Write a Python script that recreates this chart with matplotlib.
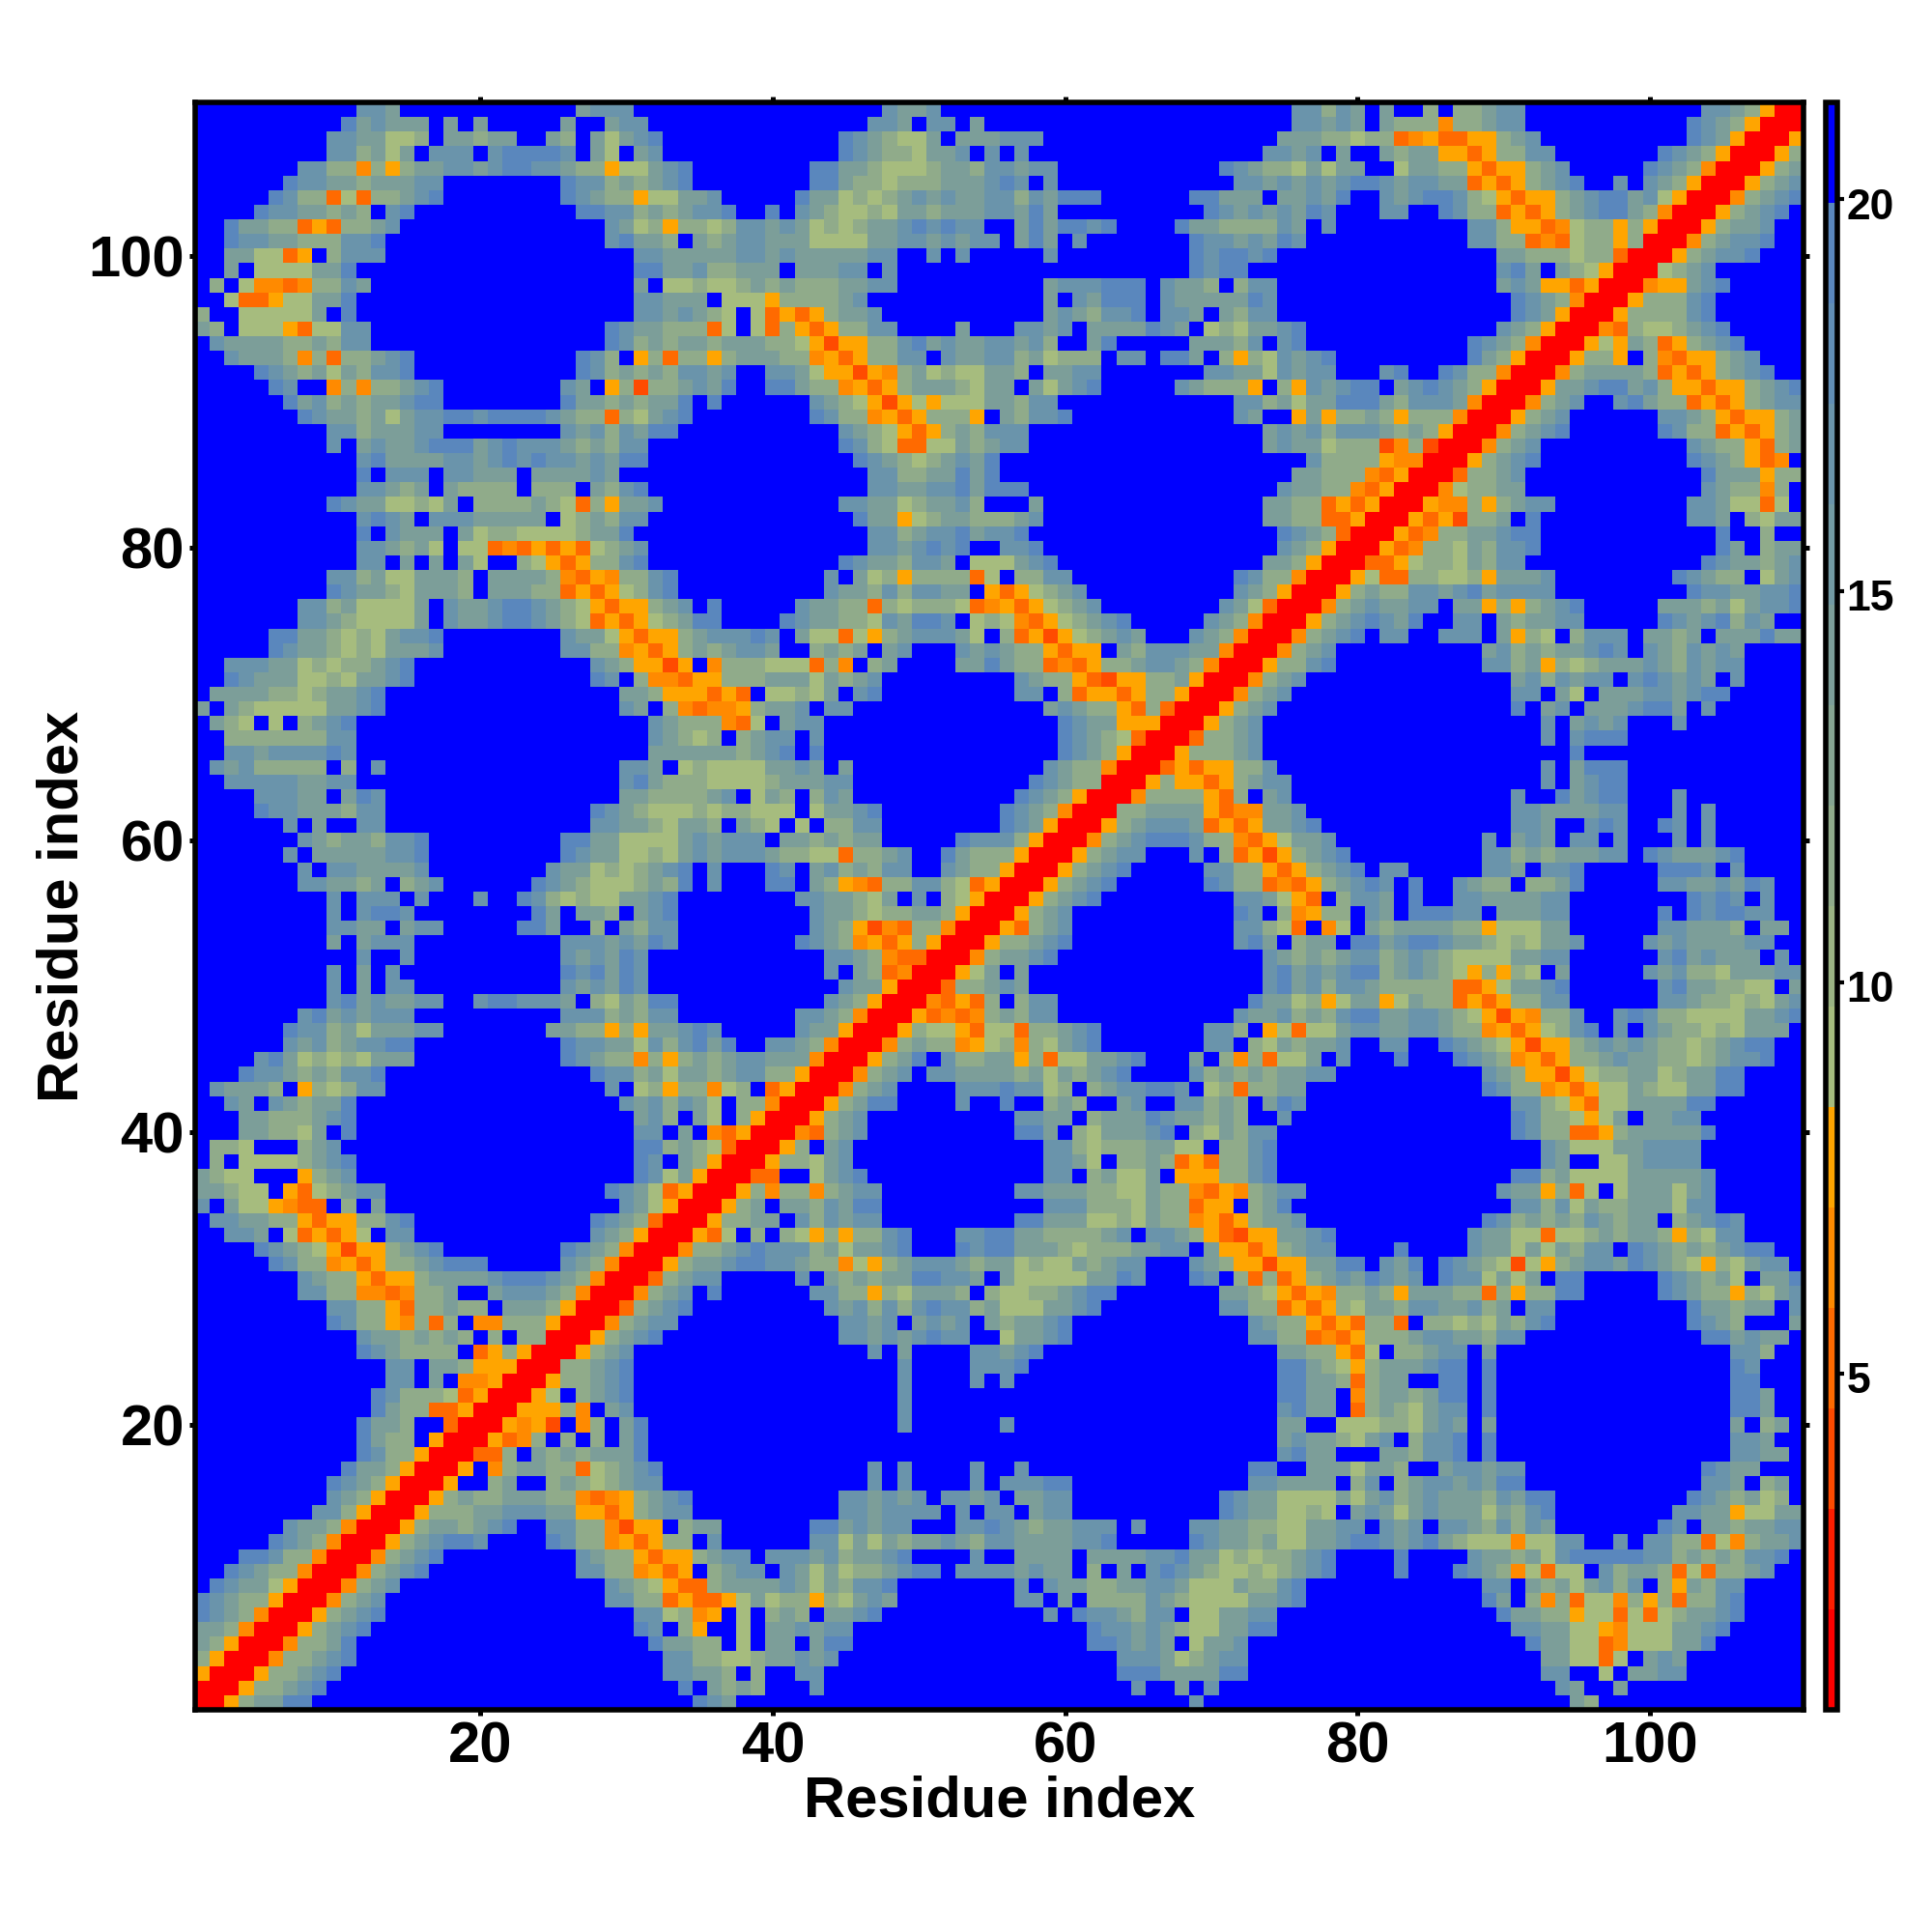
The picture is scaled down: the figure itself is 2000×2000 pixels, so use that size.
import re
import numpy as np
import matplotlib
matplotlib.use('Agg')
import matplotlib.pyplot as plt
from matplotlib.colors import ListedColormap, BoundaryNorm
from matplotlib.transforms import ScaledTranslation

plt.rcParams['font.family'] = ['Liberation Sans', 'DejaVu Sans']
plt.rcParams['font.weight'] = 'bold'

# colour levels of the scale, bottom to top
LEVEL_COLORS = ['#ff0000', '#ff1e00', '#ff4b00', '#ff6a00', '#ff8a00', '#ffa500',
                '#a6bc7e', '#9ab383', '#90ab8a', '#85a491', '#7c9e99', '#729aa3',
                '#6a94ab', '#618eb5', '#5a87bd', '#0000ff']
LEVEL_EDGES = [0.71 + 1.283 * k for k in range(17)]
CBAR_TICKS = [5, 10, 15, 20]
AXIS_TICKS = [20, 40, 60, 80, 100]

# letter -> distance
LETTER_VALUES = {'R': 1.35, 's': 3.9, 't': 5.2, 'o': 6.5, 'y': 7.8,
                 'a': 9.1, 'b': 11.6, 'c': 14.2, 'd': 16.8, 'e': 19.3, '.': 21.0}
SEG_WIDTHS = [37, 37, 36]

# one line per residue, from 110 down to 1; "12." means twelve blue cells
ROWS = [
    "11.ddc12.cddd7. 10.dccd23. .ddbdc.c..b.bbcdd12.ddcbyRR",
    "10.ecdccc.c.c5.c..cdd6. 9.ddc.dd.c20. .ddcdc.cbbbobbcdd11.edcbyRRR",
    "9.ddccaab.ccbcc..cb.cacde5. 7.edcbaac.cccddd16.d cccbbabbtoyttyybcd10.edcyRRRy",
    "9.ddbcac.ddd.deeeed.ca.cd5. 7.edcbbaccd.d.d16.d dcd.c..cbccyytybbdd7.edcbyRRRyb",
    "7.ddbbobybccddcdeeddcbbyaacde3. 5.eeccbaaabccbddcdd11.edcb bacacc..accbbytyybcd5.edcboRRRybc",
    "6.eddccbcccdd8.eddbcbcde3. 5.eecbbabbbcccded.d12.ddc dcdcdeedcddcctytybcde..d.dcbyRRRybcd",
    "5.edbbtatbbcde8.edcbbyaaccd. 4.eccababcdcdccddbdceee6.eeccc. ccdce..dcdeedbaytyybcdeecdayRRRobcde",
    "4.eddccbcb.de11.eeddbcbcdde ..e.dcbaabaccbcccddcec10.edcdc dced...dd..edbbtytybcdeecboRRRybcde.",
    "..eccbbtytbbcd14.dcabybbab ddcdcababccdededd..ceceede4.eccbbbb dc.d9.ddbyytoabbybyRRRybccd..",
    "..eddccbbbdde15.deccb.cbc ddcccaaaaccddcdcdd.cec.d7.eddcdc ed11.ddbbtotabbybRRRobcdde..",
    "..ccaaty.bddd17.ddccccc ddcdcccccdd..d.d5.d9.edeede 15.ccbbbabbtRRRybcdde3.",
    "..c.aaaacce19.eeccdbb ccc.cccdd.d20.edee.. 15.dec.cbayRRRabcd6.",
    ".b.aootobbdc18.c.aabaa bcbcbbbccdd10.cdddeee.dccb.bdd 15.cdcyytyRRRoyycde5.",
    "..attyaacce19.ddccc.a aaybbbbcd12.c.dceee.dccccced 16.edcboRRRybbbde6.",
    "b..aaaaac.e19.ddcdcba .atytybccd11.cdcbdde.ddc.cbdd 16.edcyRRRybbbbde6.",
    "cb.aaaytaadd16.edccbbbta .atbytybbdd4.c3.ddcd.ccccedc.abacc de13.dcbyRRRotbaabcde5.",
    ".dccccbbcbdd16.edbcbccbc ccbbaysyybbdecdccddcdb..ce5.cccbd. de11.edcboRRRyaycbtybcde4.",
    "..dcccbobtbbcde11.edb.ybtbbyb cccbboytybbdd.dccddbcabbb.dd.eec.byba dcde9.ecbyRRRybby.botyybcd3.",
    "....edcbcacbdde11.edbcbcbddcd ..ddcayysyobcabaaccb.ccdd7.ddcca dcdd...de..edbboRRRobccccbtytybcde..",
    ".....ed..obobbcde8.dc.ybsbbcdce ..eecbboytybcccbacc.cacde5.dcbbby bydcdee.cdedcbyRRRyccdeecdbyytyybcde",
    "......ecdbcbccdee8.eccbcbcce.e. .....dcbaysyayaaaccbdd12.ddb cacceeecbdddcoRRRobcd..decbbtytybcdd",
    ".......edccbcacddeedeeeedcbbtbacde... .....edbboytybbby.cbdde11.dc. .ycybbcbybbboRRRybcd6.ddcbytyybc",
    "9.ddbcccdd8.dcdbdcee4. 7.dcbaytybcbddd16.c dcdbdddcbcbyRRRobcde6.edbbtytybc",
    "9.d.cdccdeeecdedddcbcbdd6. 7.edbattaacbcdd16.c dccabbbsobsRRRobcd10.dcbbytbc",
    "11.deccccddcdededdcdcee6. 8.edcbabcdce19. ..dbbbbyooRRRybcde10.edcbyto.",
    "11.e.ddd.ddccc.ccccdc8. 9.ddbbccece19. .ccbbbotyRRRtbbcd12.ecccybb",
    "11.ddcbc.cbbbb.bbb.cbde6. 9.ddccddeceee17. dccbbotyRRRoabbcc12.dcbbob.",
    "9.edccaabac.bbbbcbatbyccd5. 7.ddccabccdb3.c15.c cbbtytyRRRyoobybcdd9.ddcaata.",
    "11.dedc.dddccccc.abcbdd6. 8.eccyabccbbbcd15.c cbbttyRRRytysbbc.e10.ddc.bacc",
    "11.e.dccc.cabbaaaabcce7. 9.ddbcddecdde17. edcbtRRRytobbccdee12.e..b..",
    "11.ddcbca.aatotytytabcd6. 9.ddcdede..dde16. dcbyRRRytobbacbdde12.ec.bcc",
    "11.dd.c.c.ca..baytybbde6. 7.edccbddc.aaacde14.c cbyRRRttyabbacbdd12.edccbcd",
    "9.ddbcaacccb.ccccbotyobbde4. 6.d.cabybbbbta.bbdd11.edb boRRRyattbbaabycccd8.edcbb.acd",
    "9.edccbacccb.cccbbtytyabde4. 6.dccbdbddcc.ytyabcd10.dcb yRRRybcbbddcdecdddd9.eddccdde",
    "7.ddbcaaaac.dccdeedcbaytyybcd.e. 4.dccbbtbabbbatoytyabcd8.dcat RRRobcdccdd.ccybybcde5.cccbcacdde",
    "7.ddcbaaaac.dccdeedcbatytyabcee. 3.edccbbadceed.abaotyabcde5.dcboR RRybcdedce..dd.cbccdd5.edcdebdc..",
    "5.eeccbabacdde8.dccaytyybcdd ded.caataybcdddca.btysyabcdc3.dcboRR Robcde.dd..ddd.cyba.bddd.ccbc.cccecc",
    "5.edccbabacccd8.ddbboytybcbc ddc..bcbc.cd3.dcdcbbytyy.cbdddccoRRR obcd10.cdbcbccded.dcbdcdc4.",
    "..dddccababbcde12.dcbyysy.ob bbaaatbo.bc4.ccecbbtotybbcddcboRRRy bbde10.ddbcybabcccdcbdcdd4.",
    "..edcccaabaccde12.ed.bootyyb bbcccacbcd9.dcbbytsyybbcyRRRob cd14.cdbdcdd.dedcdc.d4.",
    ".ccccbbabccde16.ccbyyyty t.aabac.de9.dd.btyytybbyRRRobc d15.dd.ca.cccddcdee5.",
    "c.cbaaaaaccde16.dc.botoo ybccd.dd13.cdcbbytbtRRRybcd 16.e.cd.cccdeec.d6.",
    ".cba.a.bcde20.dcbbbo ta.cdd16.edccyyyRRRybcd. 18.d.cdcd3.d8.",
    "..bbbbbbbdd20.dcbab. bcdd.d16.edcbatRRRtbbcd. 18.d.deee12.",
    "..ddcdddded20.cccccc bcde.e16.edcbyRRRybbbcd. 20.e15.",
    ".dcdbbbbb.b.d16.ddc.abaa aaccdc.c13.dcbboRRRtytyybbd 18.d.ceee12.",
    "..dddddccdd18.decbbbaa aabcccdd12.edcbbRRRybyytybcd d17.d.cdee12.",
    "....dddcc.ced16.ccbbbbcd .acb.bdc11.edcbyRRRobbbbytb.c d15.d..ecdee3.d8.",
    "....eddcccbdd14.edcbaaabab baaa.accde8.edcboRRRbbccccytooc cd14.ddccccdd3.d.d6.",
    "......d.c..dd14.ddccbaccb. cba.a.bbdd8.edcyRRRybcdddctytyc cde13.ddc..ded..ed.d6.",
    "7.dcbccbdde9.eeccaaaacdcd dd.ccbcbcc5.edddbyRRRobcdeeedbboty accd10.d.cdc.dd.d3.d.d6.",
    "......d.cccccdde9.edccaabacdcd ddcbbaatbbcd..ecbbbyRRRybcdd3.d.btys ybcde9.ddbcbcccdd.edcccde4.",
    "7.d.ddccccd8.dccababcde.d. ..ed.cdbcbdd..dcbbyRRRybcde5.ddbby tybcde.dd5.ddc.dde5.eeed.d4.",
    "7.ddccbc.bcd6.edcbaaabcbe.d. ..ee.cbyotbbddbatyRRRybcde6.edbbt otybcded.e..dcbb.bbce5.ddccdced..",
    "9.d.ddd.d3.d..edbabaaccde4. 4.ddccbac.d.bayRRRybcde9.ddc ayt.bddc.e..ddccccdd8.eded.d..",
    "9.d.deed8.ec.ccb.cde4. 5.dccbabbccbyRRRybcd11.ed. boybb.dc.eeedd.cccdd6.e.edeedd..",
    "9.ddcc.cdd5.eec..b.cbdd4. 5.dcbysotbboRRRytbcd11.ddb at.oa.cbccccbbyaaacc6.ddcccb.cc.",
    "9.c.cddd10.dddcdced4. 4.edcboytybyRRRybbcde11.dec .bcc.eecdeedccbabaccd4.dcdccccdd..",
    "11.d..d10.dcdced6. 6.ddcbottRRRobccde14.d cbcbcddbcdcbaaaaccdd6.decdccc.d.",
    "9.d.c.d.10.edeced6. 6.d.cbtoRRRyac.c16.d ecdcdeebcdcbaybyba.c5.dcdbbacccdd",
    "9.d.c.dd10.dcdced6. 7.dccyRRRtbbcdc16.d ecdbddcbbbbbttyaccde6.deccbbaa.c",
    "9.decdccdd..deedddc.bacbee4. 6.dcbyRRRotytb.bdd13.ec cabyaccyacbbtytybbdd6.ddcbbabacd",
    "7.decdcddd10.dddbcbdd4. 4.ddcboRRRytotobcbdd12.dcc dbcbdeeccddcbaysyobbd..dedbbaaaaccde",
    "6.eddbcacccdd7.ccbbybyccded. 4.dccyRRRybaaytaatbbcde7.ddb.y ataacddccddcbboytyabde.d.dcbbabaccc.",
    "6.dcdbcddee10.eddccadbdece ..ddcboRRRobcbboyabobacde7.dd.ba cbccd..dd..edcbaysyybcdcdcbbabcdee..",
    "4.decababaccc10.edcbbobybcbc ddcccoRRRybce.dbbccybtaaccde3.c.bobt aac.d3.e3.edcboytybbcdccbbabcdde..",
    "3.eddcbcbdde14.eddbcaccbc ddbbyRRRobcd.ddccccbcacbcde4.dbcbcb ccdd10.dcbyysyabbccabccee4.",
    ".dcccb.ybabdd15.d.abybboa b.tyRRRobcd4.dddeddab.bcddeed.abtbb cc12.edbboytyaacbaaccee4.",
    "..dc.dcbcce18.dcdbdca. bboRRRybcee4.d..e..bcb..cd..ddbcb.c ed14.ddbaytaaccccee6.",
    "...ccbbbcde19.cdb.ca. byRRRybcd10.ddcc.bcccedccbcb.. d15.edbbayac.ccdd7.",
    "...ccbbac.e19.dd.c.ot yRRRotbcd10.eec.bacccde.bacbdd 16.edbbttybccccce6.",
    ".bba...bcd20.eebcbat RRRyb.cd13.ddbabbbccaa.bbde 18.dcaaaccdddd7.",
    ".b.aaaabcde19.ed.cbyR RRybbacd13.ddca.bbcbtytbbde 18.dc..aacdddd7.",
    "cbaa...ybcd19.edacyRR Rtt..acde12.dd.bcaac.yyybbde 16.eebcaaaacccccd6.",
    "ccbaa.ytabcdd15.edcatyRRR ybobbobcdd9.ddcccbbaacbbotyobc dd13.dccybta.acccacd6.",
    "d.caayott.b.c16.dcayRRRy bc.ccbdcee11.dddbbbacbbtyy.bc e15.ddbdacbbcccadd6.",
    ".ddccbbytyybbde12.edcbtRRRyb bcc.dbdcdd9.eecccaabacbboytybc cd12.edbcbcbdcbcc.bcded4.",
    "..ddc.atytya.dd12.dcbyRRRyta .b.baybybbde3.ddeeccbbbbcd.ddcbytsyy ccde9.dccaataabcbccbybadd4.",
    "4.edcbaysyybcde8.edcboRRRobbc dedddbcaccde3.edeecccbabbbccdd.cyyty bcdd4.e4.dccacacbdd.edcbcbcdee..",
    "5.edbboytybbcdeee5.dcboRRRybccd eeddcbboaybcdddcbccabaacbcdd3.dcbyys yyccee.dce.edcbasaybcddcedcbaybacdd.",
    "7.dcbbytyybccccdeeedcboRRRtbcdd. 4.d.cbcbcceeddc.caaaaacced3.ed.btb tybcdcedcd.eddacac.ee5.edcbca.cce",
    "7.ddbbootobbc..cdddcboRRRobcd.e. 5.ddbbybacccb.baabbcdee7.ccba ytyobbcbycccbbtbybbee5.edcbbybacd",
    "9.ddbbytbbcbb.cccbyRRRtbcde3. 6.dcdbdbdeddbcaaaccde8.ddbb tytybaccbddccdbc.dd9.eccbcc.d",
    "9.edbbyobtb.oobbbyRRRobcdd4. 7.ddcd.cdcd.cbccde12.dc bbytytbbt.bbabacbde9.edcb3.c",
    "11.dccbcbcb.b.bbRRRybcde5. 7.ddcdcdedd..accde12.dd bbtotybbbcddccbdd12.eecdcc.",
    "11.edcbbbb.tybyRRRybcd7. 9.d.c4.ddcde16. ccbbyta.bbcdd.c16.ddb..",
    "13.dd.ccbyyyRRRbbcde7. 11.d4.ddde17. eecbaybcccdee.e16.ed3.",
    "13.dd.c.ooyRRRybbcde7. 11.d4.d.d18. eeccbtbcc..ee.e16.ee3.",
    "12.edbbbatyRRRya.bcde7. 11.d25. eecc.obccbcee.e16.eec..",
    "12.ecbbttyRRRyyybo.cd7. 11.d25. decc.tbcbacdd.e16.eec..",
    "11.eccb..tRRRyoys.ob.ce6. 11.d6.d18. cc..aaabbacdc.c16.c.bc.",
    "11.ecbb.yRRRytob.b.b.ce6. 37. cdccbacd.bdde.e16.ddc..",
    "11.edbbyRRRttb.cbcbccce6. 37. decc...ccbdde.e16.ddcc.",
    "10.eccbyRRRy.obccbbtabcde5. 9.d.d4.d..d15.ee ..cccaccb..cddcdd12.edcc3.",
    "9.edcbyRRRy..bc..bcbabcdd5. 9.d.d4.d.dddee12.dd cccc.bd.bcddcdcee12.ddc.bc.",
    "9.dcbyRRRybcbbcccbbotoybcde3. 7.ddcdcd.ddcd.ccdd10.edcc aaaacacdbcdcccbdcee9.edcbcab.",
    "8.ddbyRRRybbbccdddccyytybcdd3. 7.ddcdddd.d.dd.cdd10.edcc aaba.cdcacdcccacbde8.ddccyaacc",
    "6.dccboRRRybccbcde..ddbbosyy.bcc. 5.eecdcdd3.ddedcbccddd.d3.ddccbb aaccdd.dcd.ddcbdbdc7.ed.ccbccdd",
    "5.edcboRRRybcdeed4.edbboytybb.d. 5.ddacacbccdcbddccccdde5.edccbc aaccdeedcdecbaaaoaadd..d.ddbbtaobccd",
    "3.eedbboRRRobcde9.dcbbytyybcd d.dddcdbccde4.d..cccc.ccccddeccabab bcde4.e4.dccbcadeeeeeddbcbcbdde.",
    "..edcbboRRRobcde10.ddbboyty.bc dd.dcacabbcdee.ddddcdcc.b.c.dedcbaaba bcde4.e3.edcboataa.dbccbtatbbcd..",
    ".edccayRRRobcd14.dcbayttbc cccdcacbdde8.d.dccbbccddcaaacbb de12.dd.cbcacdbd.bycbdd4.",
    "edcbbyRRRobcd15.ddbbtytty acabbybacdc8.dd.c.bbbbdcbaaaacc de12.ec.bobtaaobybtbbde4.",
    "edcboRRRybcde17.ddaboy. a.bcb.ccde11.d.eddcbdd.aaccdd 15.eccbbyaatatabccde4.",
    "ccboRRRybcde18.ed.by.. a.ccdcdd16.eddcdcbaaccee 16.ddccaayoaaaccde5.",
    "cbyRRRobbce20.eccbb. a.cc.cee16.eedcdc.accd.. 17.eccaatoaaacce6.",
    "byRRRobbcde21.ddbba abccdcd19.dddcabcdd.. 18.ccaata.cdc8.",
    "yRRRybbcde22.ddccb .b..dd20.eeeccccee.. 18.dd..a.ccdd8.",
    "RRRybbcde24.e.cb cb...d21.d..c.d4. 19.dc..c12.",
    "RRybccee26.edc 31.d5. 20.cb14.",
]


def decode_row(row):
    # expand the blue runs and hold each block to its width
    cells = ''
    for seg, width in zip(row.split(), SEG_WIDTHS):
        seg = re.sub(r'(\d+)\.', lambda m: '.' * int(m[1]), seg)
        cells += seg.ljust(width, '.')[:width]
    return [LETTER_VALUES[c] for c in cells]


values = np.array([decode_row(r) for r in ROWS])[::-1]
residues = np.arange(1, values.shape[0] + 1)

cmap = ListedColormap(LEVEL_COLORS)
norm = BoundaryNorm(LEVEL_EDGES, cmap.N)

fig = plt.figure(figsize=(20, 20), dpi=100, facecolor='white')
ax = fig.add_axes([202 / 2000, 1 - 1770 / 2000, 1665 / 2000, 1664 / 2000])
cax = fig.add_axes([1889.5 / 2000, 1 - 1770 / 2000, 12 / 2000, 1664 / 2000])

mesh = ax.pcolormesh(residues, residues, values, cmap=cmap, norm=norm, shading='nearest')
ax.set_xlim(0.5, 110.5)
ax.set_ylim(0.5, 110.5)
ax.set_xticks(AXIS_TICKS)
ax.set_yticks(AXIS_TICKS)
ax.tick_params(top=True, right=True, direction='out', length=4.5, width=3.6, labelsize=43)
ax.tick_params(axis='x', pad=4)
ax.tick_params(axis='y', pad=3.5)
for spine in ax.spines.values():
    spine.set_linewidth(4)
ax.set_xlabel('Residue index', fontsize=43, fontweight='bold', labelpad=0.5)
ax.set_ylabel('Residue index', fontsize=43, fontweight='bold', labelpad=-1)

cb = fig.colorbar(mesh, cax=cax, ticks=CBAR_TICKS, spacing='proportional')
cb.minorticks_off()
cb.outline.set_linewidth(4)
cax.tick_params(length=5, width=3, labelsize=32, pad=2)
# the scale numbers sit a little under their ticks
for label in cax.get_yticklabels():
    label.set_transform(label.get_transform() + ScaledTranslation(0, -3 / 72, fig.dpi_scale_trans))

fig.savefig('out.png', dpi=100, facecolor='white')
